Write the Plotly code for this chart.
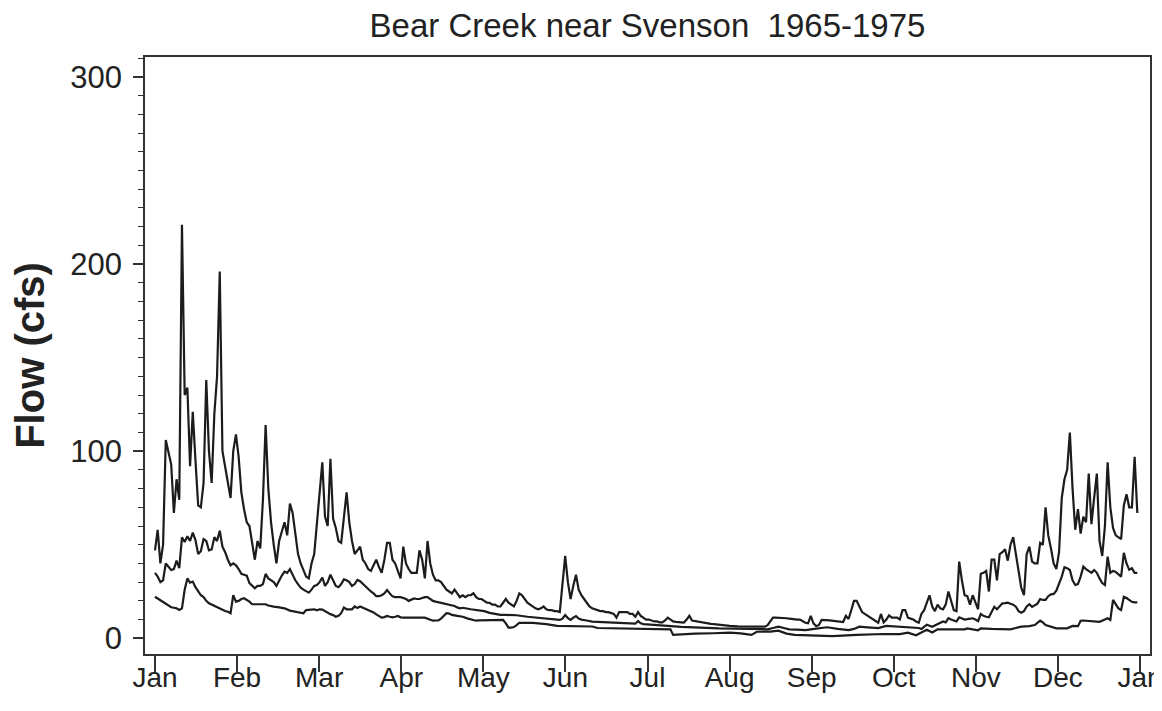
import plotly.graph_objects as go

# ---- data (day of year, flow in cfs) ----
month_labels = ["Jan", "Feb", "Mar", "Apr", "May", "Jun", "Jul", "Aug", "Sep", "Oct", "Nov", "Dec", "Jan"]

high_days = list(range(0, 214)) + [216, 220, 223] + list(range(226, 248)) + [250] + list(range(253, 365))
high_vals = [
    47, 58, 40, 50, 106, 99, 93, 67, 85, 74,            # 0-9
    221, 130, 134, 92, 121, 95, 71, 70, 83, 138,         # 10-19
    100, 83, 120, 140, 196, 100, 92, 82, 75, 100,        # 20-29
    109, 97, 78, 69, 62, 60, 51, 42, 52, 48,             # 30-39
    74, 114, 80, 62, 50, 40, 52, 57, 62, 55,             # 40-49
    72, 67, 55, 45, 40, 36, 33, 32, 40, 45,              # 50-59
    60, 75, 94, 65, 60, 96, 64, 59, 52, 51,              # 60-69
    65, 78, 62, 52, 45, 47, 49, 42, 40, 37,              # 70-79
    36, 39, 42, 38, 35, 42, 51, 51, 42, 40,              # 80-89
    36, 32, 49, 40, 37, 35, 35, 35, 47, 42,              # 90-99
    32, 52, 40, 34, 31, 31, 30, 28, 26, 25,              # 100-109
    24, 26, 24, 22, 23, 22, 23, 23, 24, 22,              # 110-119
    21, 21, 20, 19, 19, 18, 18, 17, 17, 19,              # 120-129
    21, 19, 18, 17, 20, 24, 23, 21, 19, 18,              # 130-139
    17, 16, 15.5, 16, 17, 15.5, 15, 15, 14.5, 14.5,      # 140-149
    14, 30, 44, 30, 21, 28, 34, 26, 23, 21,              # 150-159
    19, 17, 16, 15.5, 15, 14.5, 14.5, 14, 14, 13.5,      # 160-169
    13, 11, 14, 14, 14, 14, 13, 13, 11.5, 14,            # 170-179
    12, 11, 10, 10, 9.5, 9, 9, 8.5, 8.5, 9.5,            # 180-189
    11, 10, 9, 8.8, 8.6, 8.4, 8.4, 10, 12, 9.5,          # 190-199
    9.2, 9, 8.9, 8.5, 8, 7.8, 7.7, 7.6, 7.4, 7.2,        # 200-209
    7, 6.8, 6.7, 6.6,                                    # 210-213
    6.4, 6.3, 6.2,                                       # 216, 220, 223
    6.2, 7, 9, 11, 11, 11, 11, 11, 10.7, 10.5,           # 226-235
    10.2, 10, 10, 10, 9, 8.3, 8, 12, 8, 6.6,             # 236-245
    7, 9.8,                                              # 246-247
    9.6,                                                 # 250
    9, 8.7, 8.7, 12, 10.3, 15, 20, 20, 17, 14,           # 253-262
    13, 12, 11, 10, 9, 8.3, 13, 8.5, 10, 12.2,           # 263-272
    11, 11.2, 11, 10, 15, 15, 11, 10.5, 10, 9,           # 273-282
    8.3, 13, 15, 19, 23, 17, 14.5, 18, 16, 15.5,         # 283-292
    18, 25, 20, 15, 14.5, 41, 31, 23, 22.5, 18,          # 293-302
    23, 19, 15.5, 34.5, 35, 36, 25, 42, 42, 31,          # 303-312
    45, 46, 47.6, 41.5, 50, 54, 45, 35, 27, 23,          # 313-322
    45, 49, 41, 40, 40, 51, 50, 70, 55, 48,              # 323-332
    40, 37, 46, 75, 85, 90, 110, 80, 58, 69,             # 333-342
    56, 65, 62, 88, 61, 75, 88, 52, 44, 60,              # 343-352
    94, 70, 59, 55, 54, 53, 71, 77, 70, 70,              # 353-362
    97, 67,                                              # 363-364
]

mid_days = (list(range(0, 121)) + [122, 124, 126, 128, 130, 134, 138, 140, 145, 150]
            + [151, 152, 153, 154, 155, 156, 157, 158, 160, 162, 166, 170, 175, 178, 179, 180, 181,
               185, 190, 195, 200, 205, 209, 215, 220, 223, 227, 229, 231, 233, 235, 238, 241, 245,
               249, 253, 257, 259, 261, 264, 268, 271, 275, 280, 283, 284, 286, 288, 290]
            + list(range(291, 365)))
mid_vals = [
    35, 33, 30, 31, 40, 38, 36.5, 37, 41.5, 37.5,        # 0-9
    54, 51.5, 54.5, 52, 56.5, 52.5, 45, 46.5, 53, 52,    # 10-19
    47, 47.5, 54, 52, 57.5, 49, 46, 42, 39, 40,          # 20-29
    39, 37, 34.5, 34, 33.5, 29.5, 28, 26.7, 28, 28,      # 30-39
    29, 34.4, 32, 31, 30, 28, 31, 33.5, 35.6, 35,        # 40-49
    37, 34, 31, 29, 27, 26, 25, 24.4, 26, 28,            # 50-59
    28.5, 30, 32.5, 28, 30, 34, 31, 28, 27.3, 29,        # 60-69
    31.5, 31, 30, 28, 29, 31.2, 30.5, 29, 27.5, 26,      # 70-79
    25, 24, 22.5, 22.5, 23, 24, 25.8, 24, 22.4, 22,      # 80-89
    22, 22, 21.5, 21, 20, 20.5, 21.3, 21, 21, 21.5,      # 90-99
    22, 22, 21, 20, 19.6, 19.3, 19, 18.7, 18.5, 18,      # 100-109
    17.8, 17.3, 16.5, 16, 16.3, 16.2, 15.8, 15.5, 15.3, 15.2,  # 110-119
    15.1,                                                # 120
    14.5, 13.6, 13, 12.5, 12.5, 12.3, 11.5, 11.2, 10.6, 9.8,
    10.5, 12.4, 10.8, 9.8, 11, 11.9, 10.5, 10, 9.5, 8.9, 8.6, 8.3, 8, 7.8, 9.2, 8, 7.6,
    7, 6.6, 6.1, 5.7, 5.5, 5.3, 5.2, 5, 4.8, 4.8, 5.5, 6.2, 5.5, 4.8, 4.6, 4.4, 5.2,
    5.9, 5, 4.4, 5, 6.2, 5.8, 5.4, 6.6, 6.2, 6, 5.5, 5, 7.3, 6.2, 7.5,
    8.3, 9, 8.5, 10.7, 10, 9.3, 9, 11.2, 10.5, 10,       # 291-300
    10.2, 10.5, 10.7, 10, 9.2, 13, 12, 11.5, 11.2, 14,   # 301-310
    16.8, 15.5, 17, 18.7, 18.8, 19, 18.5, 18, 16.9, 14.5,  # 311-320
    13.7, 14.5, 17, 18.2, 16.8, 17.5, 18.5, 21, 20.5, 20.5,  # 321-330
    22.5, 23.5, 23.7, 25.5, 29, 33, 38, 37.5, 36.5, 31,  # 331-340
    28.5, 29, 33, 38.3, 37, 36, 35, 36.5, 35, 32,        # 341-350
    29.5, 28.5, 43.6, 35, 36, 35.5, 34, 33, 45.7, 40,    # 351-360
    36.6, 37.4, 35, 35,                                  # 361-364
]

low_days = (list(range(0, 37)) + [41, 42, 43, 44, 46, 48, 50, 52, 54, 55, 56, 58]
            + list(range(59, 93)) + list(range(100, 111)) + [112, 114, 116, 118, 119, 120, 124, 129]
            + [130, 131, 132, 133, 134, 135, 140, 145, 149, 157, 162, 164, 176, 191, 192, 200, 207,
               213, 217, 221, 223, 228, 231, 233, 234, 237, 245, 251, 260, 270, 276, 279, 282, 284,
               286, 288, 290, 300, 301, 305, 306, 310, 317, 319, 321, 324, 326, 328, 329, 330, 332,
               334, 338, 340, 342, 343, 344, 347, 350, 352, 353, 354, 355, 356, 357, 358, 359, 360,
               361, 362, 363, 364])
low_vals = [
    22.2, 21.3, 20.5, 19.6, 18.6, 17.6, 16.6, 16.3, 16, 15.1,  # 0-9
    16, 26, 32, 29.7, 30.3, 27.3, 25, 23, 22, 20,        # 10-19
    18.7, 18, 17.2, 16.4, 15.8, 15.1, 14.6, 14.2, 13.4, 23.1,  # 20-29
    19.6, 20, 21, 21.4, 20.5, 19.6, 18.2,                # 30-36
    18.2, 17.5, 17, 16.9, 16.5, 16, 14.8, 14.3, 13.7, 13.4, 15.1, 15.3,
    15.5, 15, 15.5, 15.3, 14.5, 13.4, 12.9, 12.4, 11.5, 12,  # 59-68
    13.4, 16.4, 15.5, 15.5, 15.5, 17, 16.2, 17, 16.4, 16,    # 69-78
    15, 14.5, 13.8, 12.8, 11.9, 11, 11.3, 11.9, 11.5, 11.2,  # 79-88
    11.5, 11.9, 11.2, 11,                                # 89-92
    11, 10.5, 10, 9.4, 9.5, 9.6, 10.5, 12, 13.4, 13.2, 12.5,  # 100-110
    12, 11.5, 10.5, 9.8, 9.4, 9.6, 9.8, 9.8,
    8, 5.7, 5.7, 6, 7, 8.3, 8.2, 7.6, 6.6, 6.2, 6.3, 5.5, 5.3, 4.8, 1.8, 2.5, 2.7,
    3.0, 2.6, 1.8, 3.5, 3.6, 4.1, 3.3, 2.5, 1.8, 1.5, 1.2, 1.8, 2.3, 2.2, 3.0, 1.6, 3,
    4.6, 3.1, 4.8, 4.8, 5.3, 4.3, 5.3, 5, 4.8, 5.5, 6.2, 6.5, 7.1, 9.4, 8.5, 7.1, 6.2,
    5.3, 5.3, 6.6, 6.5, 9.4, 9.5, 9.3, 8.8, 10, 10.7, 9.8, 20.5, 18.3, 16, 15.1, 22.2, 21.5,
    20.5, 19.5, 19.2, 19.2,
]

days_per_year = 365
month_ticks = [i * days_per_year / 12 for i in range(13)]

line_color = "#1c1c1c"
fig = go.Figure()
for d, v in [(high_days, high_vals), (mid_days, mid_vals), (low_days, low_vals)]:
    fig.add_trace(go.Scatter(x=d, y=v, mode="lines",
                             line=dict(color=line_color, width=2.2), showlegend=False,
                             hoverinfo="skip"))

# The page body has an 8px margin; keep the figure small enough that no scrollbar appears.
font_family = "Liberation Sans, Arial, sans-serif"
fig.update_layout(
    width=1154, height=689,
    margin=dict(l=137, r=12, t=49, b=43, autoexpand=False),
    paper_bgcolor="white", plot_bgcolor="white",
    font=dict(family=font_family, color="#222222"),
    title=dict(text="Bear Creek near Svenson  1965-1975", x=0.5, xref="paper",
               y=0.975, yref="container", xanchor="center", yanchor="middle",
               font=dict(size=33, color="#222222")),
)
fig.update_xaxes(
    range=[-3.7, 368.7], tickvals=month_ticks, ticktext=month_labels,
    ticks="outside", ticklen=16, tickwidth=1.5, tickcolor="#333333",
    showgrid=False, zeroline=False, showline=True, linecolor="#333333", linewidth=1.5,
    mirror=True, automargin=False, tickfont=dict(size=28, color="#222222"),
    ticklabelstandoff=-18, ticklabeloverflow="allow",
)
fig.update_yaxes(
    range=[-8.4, 310.7], tickvals=[0, 100, 200, 300],
    ticks="outside", ticklen=10, tickwidth=1.5, tickcolor="#333333",
    minor=dict(dtick=10, ticks="outside", ticklen=5, tickcolor="#333333", tickwidth=1),
    showgrid=False, zeroline=False, showline=True, linecolor="#333333", linewidth=1.5,
    mirror=True, automargin=False, tickfont=dict(size=31, color="#222222"),
    ticklabelstandoff=5,
    title=dict(text="<b>Flow (cfs)</b>", font=dict(size=40, color="#222222"), standoff=26),
)

fig.write_html("out.html")
